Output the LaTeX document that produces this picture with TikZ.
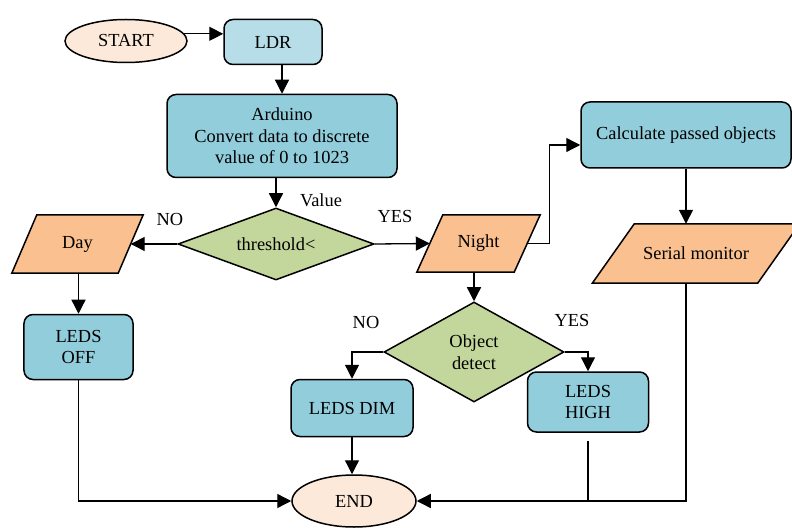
\documentclass[tikz,border=0pt]{standalone}
\usepackage{fontspec}
\setmainfont{Liberation Serif}
\usetikzlibrary{shapes.geometric,arrows.meta,calc,backgrounds}
\definecolor{procblue}{HTML}{92CDDC}
\definecolor{ldrblue}{HTML}{B7DEE8}
\definecolor{termfill}{HTML}{FDE9D9}
\definecolor{decgreen}{HTML}{C3D69B}
\definecolor{ioorange}{HTML}{FAC090}
\begin{document}
\begin{tikzpicture}[x=1bp,y=-1bp,
  every node/.style={font=\fontsize{18.4bp}{21.5bp}\selectfont, align=center, inner sep=0pt},
  box/.style={rectangle, draw, line width=1.5bp, rounded corners=9bp, fill=procblue},
  term/.style={ellipse, draw, line width=1.5bp, fill=termfill},
  dec/.style={diamond, draw, line width=1.5bp, fill=decgreen},
  iobody/.style={rectangle},
  iopara/.style={draw, line width=1.5bp, fill=ioorange, line join=miter},
  arr/.style={line width=1.3bp, -{Triangle[length=14bp,width=14bp]}},
  ln/.style={line width=1.3bp}
]
\useasboundingbox (0,0) rectangle (792,528);

% nodes
\node[term, minimum width=122bp, minimum height=43bp] (start) at (126,41) {START};
\node[box, fill=ldrblue, minimum width=98bp, minimum height=45bp] (ldr) at (273,42) {LDR};
\node[box, minimum width=230bp, minimum height=83bp] (ard) at (282,136) {Arduino\\Convert data to discrete\\value of 0 to 1023};
\node[dec, aspect=2.7, minimum width=196bp, minimum height=72bp] (thr) at (276,244) {threshold<};
\node[iobody, minimum width=106bp, minimum height=58bp] (day) at (77.5,244) {Day};
\node[iobody, minimum width=97bp, minimum height=57bp] (night) at (478.5,243.5) {Night};
\node[box, minimum width=210bp, minimum height=66bp] (calc) at (686,135) {Calculate passed objects};
\node[iobody, minimum width=165bp, minimum height=59bp] (serial) at (696,253.5) {Serial monitor};
\node[box, minimum width=109bp, minimum height=65bp] (ledsoff) at (78.5,347) {LEDS\\OFF};
\node[dec, aspect=1.8, minimum width=180bp, minimum height=100bp] (obj) at (474,352) {Object\\detect};
\node[box, minimum width=122bp, minimum height=57bp] (ledsdim) at (352,408) {LEDS DIM};
\node[box, minimum width=121bp, minimum height=60bp] (ledshigh) at (588,402) {LEDS\\HIGH};
\node[term, minimum width=124bp, minimum height=52bp] (end) at (354,501) {END};

% parallelogram outlines behind the I/O texts
\begin{scope}[on background layer]
\draw[iopara] ([xshift=12.5bp]day.north west) -- ([xshift=12.5bp]day.north east)
  -- ([xshift=-12.5bp]day.south east) -- ([xshift=-12.5bp]day.south west) -- cycle;
\draw[iopara] ([xshift=13bp]night.north west) -- ([xshift=13bp]night.north east)
  -- ([xshift=-13bp]night.south east) -- ([xshift=-13bp]night.south west) -- cycle;
\draw[iopara] ([xshift=21bp]serial.north west) -- ([xshift=21bp]serial.north east)
  -- ([xshift=-21bp]serial.south east) -- ([xshift=-21bp]serial.south west) -- cycle;
\end{scope}

% labels
\node (vlab) at (321,200) {Value};
\node (nolabA) at (170,219) {NO};
\node (yeslabA) at (395,216) {YES};
\node (nolabB) at (366,322) {NO};
\node (yeslabB) at (572,320) {YES};

% connectors
\draw[arr] (start.7) -- (start.7 -| ldr.west);
\draw[arr] (ldr.south -| ard.north) -- (ard.north);
\draw[arr] (ard.south -| thr.north) -- (thr.north);
\draw[arr] (thr.west) -- (day.east);
\draw[arr] (thr.east) -- (night.west);
\draw[arr] (night.east) -- ++(22,0) |- ([yshift=-10bp]calc.west);
\draw[arr] (calc.south) -- (calc.south |- serial.north);
\draw[arr] (day.south -| ledsoff.north) -- (ledsoff.north);
\draw[arr] (night.south -| obj.north) -- (obj.north);
\draw[arr] (obj.west) -| (ledsdim.north);
\draw[arr] (obj.east) -| (ledshigh.north);
\draw[arr] (ledsdim.south) -- (ledsdim.south |- end.north);
\draw[arr] (ledsoff.south) |- (end.west);
\draw[arr] (serial.south -| calc.south) |- (end.east);
\draw[ln] ([yshift=-8bp]ledshigh.south) -- (ledshigh.south |- end.east);
\end{tikzpicture}
\end{document}
